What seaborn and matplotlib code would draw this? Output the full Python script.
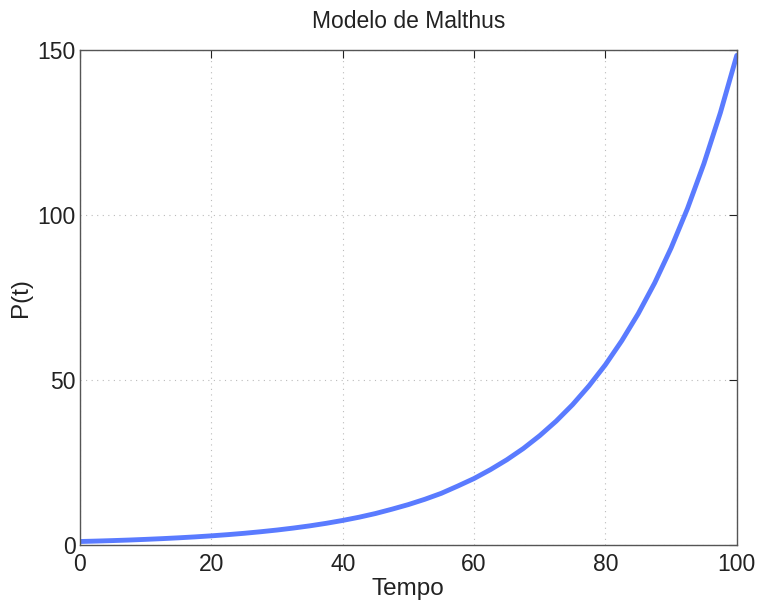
import pandas as pd
import seaborn as sns
import matplotlib
matplotlib.use("Agg")
import matplotlib.pyplot as plt

# valeurs (pas de 2.5)
tempo = [0, 2.5, 5, 7.5, 10, 12.5, 15, 17.5, 20, 22.5, 25, 27.5, 30, 32.5,
         35, 37.5, 40, 42.5, 45, 47.5, 50, 52.5, 55, 57.5, 60, 62.5, 65,
         67.5, 70, 72.5, 75, 77.5, 80, 82.5, 85, 87.5, 90, 92.5, 95, 97.5, 100]
populacao = [1.00, 1.13, 1.28, 1.45, 1.65, 1.87, 2.12, 2.40, 2.72, 3.08,
             3.49, 3.96, 4.48, 5.08, 5.75, 6.52, 7.39, 8.37, 9.49, 10.8,
             12.2, 13.8, 15.6, 17.8, 20.1, 22.8, 25.8, 29.2, 33.1, 37.5,
             42.5, 48.2, 54.6, 61.9, 70.1, 79.4, 90.0, 102.0, 115.6, 131.0, 148.4]
xticks = [0, 20, 40, 60, 80, 100]
yticks = [0, 50, 100, 150]

def main():
    df = pd.DataFrame({"Tempo": tempo, "P": populacao})

    sns.set_style("white")
    plt.rcParams['font.family'] = ['Liberation Sans', 'DejaVu Sans']

    fig = plt.figure(figsize=(7.58, 6.04), dpi=100)
    ax = fig.add_axes([0.1055, 0.098, 0.8665, 0.819])

    sns.lineplot(data=df, x="Tempo", y="P", color="#5a7bff", linewidth=3.5, ax=ax)

    ax.set_xlim(0, 100)
    ax.set_ylim(0, 150)
    ax.set_xticks(xticks)
    ax.set_yticks(yticks)
    ax.grid(True, linestyle=(0, (1, 4)), color="#bbbbbb", linewidth=0.8)
    ax.tick_params(direction="in", top=True, right=True, length=6,
                   labelsize=16.5, colors="#222222", pad=3)
    ax.tick_params(axis="x", pad=6)
    for s in ax.spines.values():
        s.set_color("#555555")
        s.set_linewidth(1.0)

    ax.set_title("Modelo de Malthus", fontsize=16.5, color="#222222", pad=16)
    ax.set_xlabel("Tempo", fontsize=17.5, color="#222222", labelpad=1)
    ax.set_ylabel("P(t)", fontsize=17.5, color="#222222", labelpad=4)

    fig.savefig("out.png", dpi=100)

if __name__ == "__main__":
    main()
